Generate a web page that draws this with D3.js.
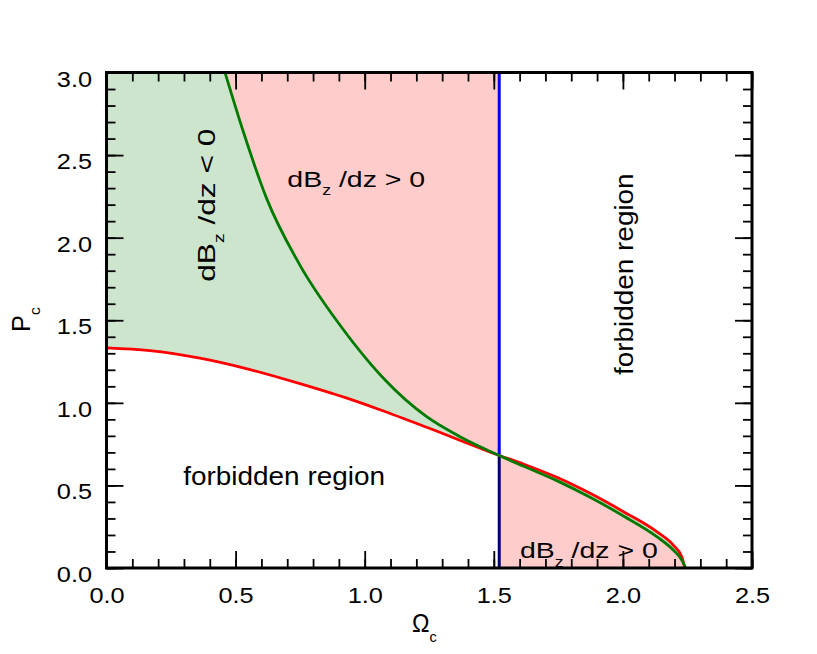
<!DOCTYPE html>
<html>
<head>
<meta charset="utf-8">
<script src="https://cdn.jsdelivr.net/npm/d3@7"></script>
<style>
body { margin: 0; background: #fff; }
text { font-family: "Liberation Sans", Arial, Helvetica, sans-serif; fill: #000; white-space: pre; }
</style>
</head>
<body>
<svg id="chart" width="817" height="654"></svg>
<script>
// red curve: lower bound of the allowed region
var redOmega = [0.000, 0.168, 0.362, 0.556, 0.749, 0.943, 1.059, 1.240, 1.517, 1.614, 1.744, 1.873, 2.002, 2.131, 2.195, 2.228, 2.240];
var redP     = [1.333, 1.316, 1.270, 1.201, 1.116, 1.022, 0.958, 0.852, 0.684, 0.630, 0.549, 0.452, 0.341, 0.220, 0.139, 0.068, 0.000];

// green curve: dBz/dz = 0
var greenOmega = [0.459, 0.530, 0.620, 0.749, 0.904, 1.021, 1.079, 1.240, 1.369, 1.517, 1.614, 1.744, 1.873, 2.002, 2.131, 2.195, 2.228, 2.243];
var greenP     = [3.000, 2.641, 2.238, 1.834, 1.471, 1.239, 1.138, 0.916, 0.795, 0.684, 0.617, 0.529, 0.428, 0.315, 0.190, 0.109, 0.048, 0.000];

// vertical boundary and where the curves meet it
var omegaCrit = 1.521;
var pCross = 0.684;

var xMajor = [0.0, 0.5, 1.0, 1.5, 2.0, 2.5];
var yMajor = [0.0, 0.5, 1.0, 1.5, 2.0, 2.5, 3.0];
var xMinor = d3.range(0, 26).map(function(i) { return i / 10; });
var yMinor = d3.range(0, 31).map(function(i) { return i / 10; });

var svg = d3.select("#chart");
var plot = { left: 106.5, right: 752, top: 72.5, bottom: 568 };

var x = d3.scaleLinear().domain([0, 2.5]).range([plot.left, plot.right]);
var y = d3.scaleLinear().domain([0, 3]).range([plot.bottom, plot.top]);

var red = redOmega.map(function(d, i) { return [d, redP[i]]; });
var green = greenOmega.map(function(d, i) { return [d, greenP[i]]; });

var line = d3.line()
    .x(function(d) { return x(d[0]); })
    .y(function(d) { return y(d[1]); })
    .curve(d3.curveMonotoneX);

function tail(pts) {
    return line(pts).replace(/^M/, "L");
}

var defs = svg.append("defs");
defs.append("clipPath").attr("id", "leftOfCrit")
    .append("rect")
    .attr("x", x(0)).attr("y", y(3))
    .attr("width", x(omegaCrit) - x(0)).attr("height", y(0) - y(3));
defs.append("clipPath").attr("id", "rightOfCrit")
    .append("rect")
    .attr("x", x(omegaCrit)).attr("y", y(3))
    .attr("width", x(2.5) - x(omegaCrit)).attr("height", y(0) - y(3));

var gLast = green[green.length - 1];

// pink: above green, left of the boundary
svg.append("path")
    .attr("clip-path", "url(#leftOfCrit)")
    .attr("d", line(green) + "L" + x(gLast[0]) + "," + y(3) + "L" + x(green[0][0]) + "," + y(3) + "Z")
    .attr("fill", "#ffcccc");

// pink: below green, right of the boundary
svg.append("path")
    .attr("clip-path", "url(#rightOfCrit)")
    .attr("d", line(green) + "L" + x(gLast[0]) + "," + y(0) + "L" + x(green[0][0]) + "," + y(0) + "Z")
    .attr("fill", "#ffcccc");

// green: between the two curves
svg.append("path")
    .attr("d", line(red) + tail(green.slice().reverse()) + "L" + x(0) + "," + y(3) + "Z")
    .attr("fill", "#cde4cd");

// vertical boundary
svg.append("line")
    .attr("x1", x(omegaCrit)).attr("x2", x(omegaCrit))
    .attr("y1", y(0)).attr("y2", y(pCross))
    .attr("stroke", "#000070").attr("stroke-width", 3);
svg.append("line")
    .attr("x1", x(omegaCrit)).attr("x2", x(omegaCrit))
    .attr("y1", y(pCross)).attr("y2", y(3))
    .attr("stroke", "#0000ff").attr("stroke-width", 3);

svg.append("path")
    .attr("d", line(red))
    .attr("fill", "none").attr("stroke", "#ff0000").attr("stroke-width", 2.8);

svg.append("path")
    .attr("d", line(green))
    .attr("fill", "none").attr("stroke", "#007a00").attr("stroke-width", 2.8);

// axes, ticks pointing inward on all sides
var tickSx = 1.15;

function drawAxis(axis, tx, ty, values, size, labels) {
    var g = svg.append("g")
        .attr("transform", "translate(" + tx + "," + ty + ")")
        .call(axis.tickValues(values).tickSize(-size).tickFormat(labels ? d3.format(".1f") : ""));
    g.select(".domain").remove();
    g.selectAll(".tick line").attr("stroke", "#000").attr("stroke-width", 1.8);
    return g;
}

drawAxis(d3.axisBottom(x), 0, plot.bottom, xMinor, 9, false);
drawAxis(d3.axisTop(x), 0, plot.top, xMinor, 9, false);
drawAxis(d3.axisLeft(y), plot.left, 0, yMinor, 9, false);
drawAxis(d3.axisRight(y), plot.right, 0, yMinor, 9, false);
drawAxis(d3.axisTop(x), 0, plot.top, xMajor, 17, false);
drawAxis(d3.axisRight(y), plot.right, 0, yMajor, 17, false);

var bottomAx = drawAxis(d3.axisBottom(x), 0, plot.bottom, xMajor, 17, true);
bottomAx.selectAll(".tick text")
    .attr("y", 35.5).attr("dy", null)
    .attr("font-size", 22)
    .attr("transform", "scale(" + tickSx + ",1)");

var leftAx = drawAxis(d3.axisLeft(y), plot.left, 0, yMajor, 17, true);
leftAx.selectAll(".tick text")
    .attr("x", -14.5 / tickSx).attr("y", 13.5).attr("dy", null)
    .attr("font-size", 22)
    .attr("transform", "scale(" + tickSx + ",1)");

svg.selectAll(".tick text").attr("fill", "#000").attr("font-family", null);

svg.append("rect")
    .attr("x", plot.left).attr("y", plot.top)
    .attr("width", plot.right - plot.left).attr("height", plot.bottom - plot.top)
    .attr("fill", "none").attr("stroke", "#000").attr("stroke-width", 3);

// text with optional subscript, stretched to a given width
function label(parts, x0, y0, size, width, angle) {
    var t = svg.append("text").attr("font-size", size);
    var shifted = false;
    parts.forEach(function(p) {
        var s = t.append("tspan").text(p.t);
        if (p.sub) {
            s.attr("font-size", size * 0.62).attr("dy", size * 0.38);
            shifted = true;
        } else if (shifted) {
            s.attr("dy", -size * 0.38);
            shifted = false;
        }
    });
    var w = t.node().getBBox().width;
    var sx = width ? width / w : 1.1;
    t.attr("transform", "translate(" + x0 + "," + y0 + ") rotate(" + angle + ") scale(" + sx + ",1)");
    return t;
}

var dbGt = [{ t: "dB" }, { t: "z", sub: true }, { t: " /dz > 0" }];
var dbLt = [{ t: "dB" }, { t: "z", sub: true }, { t: " /dz < 0" }];

label(dbGt, 287.3, 186.7, 23, 138, 0);
label(dbGt, 520, 558.3, 23, 138, 0);
label(dbLt, 215, 281.7, 24, 153, -90);
label([{ t: "forbidden region" }], 183.3, 485, 25, 201.7, 0);
label([{ t: "forbidden region" }], 632.7, 375, 25, 201.7, -90);

label([{ t: "\u03a9" }, { t: "c", sub: true }], 412, 632, 25, 25, 0);
label([{ t: "P" }, { t: "c", sub: true }], 30, 332, 25, 25, -90);
</script>
</body>
</html>
